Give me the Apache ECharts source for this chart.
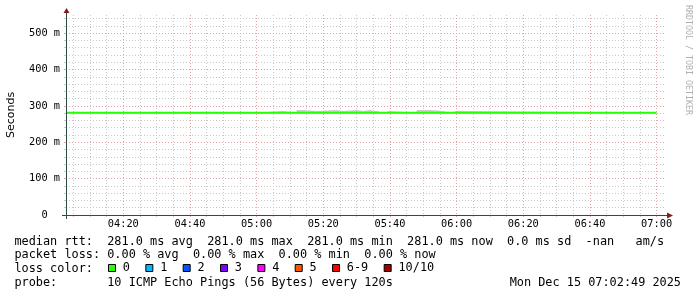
<!DOCTYPE html>
<html><head><meta charset="utf-8">
<script src="https://cdn.jsdelivr.net/npm/echarts@6/dist/echarts.min.js"></script>
<style>html,body{margin:0;padding:0;background:#fff}#c{width:697px;height:297px}</style>
</head><body><div id="c"></div>
<script>
// ---- data ----
const rangeStart = '04:02:49';
const rangeEnd = '07:02:49';
const timeTickLabels = ['04:20','04:40','05:00','05:20','05:40','06:00','06:20','06:40','07:00'];
const minorTimeTicks = ['04:05','04:10','04:15','04:25','04:30','04:35','04:45','04:50','04:55',
  '05:05','05:10','05:15','05:25','05:30','05:35','05:45','05:50','05:55',
  '06:05','06:10','06:15','06:25','06:30','06:35','06:45','06:50','06:55'];
const yTickValues = [0, 100, 200, 300, 400, 500];
const yMinorValues = [20,40,60,80,120,140,160,180,220,240,260,280,320,340,360,380,420,440,460,480,520,540];
const yMax = 550;

// median RTT (ms)
const medianTimes = ['04:02:49', '07:00'];
const medianMs = [281.0, 281.0];

// smoke: top of ping spread per step (ms), value holds from each time to the next
const smokeTimes = ['04:02:49','05:00','05:08','05:12','05:14','05:18','05:24','05:26','05:30','05:32',
  '05:34','05:36','05:38','05:40','05:48','05:52','05:56','05:58','06:00','07:00'];
const smokeMaxMs = [281.5,286,281.5,288.75,286,288.75,286,288.75,286,288.75,
  286,281.5,286,281.5,288.75,286,281.5,286,281.5,281.5];
const smokeFloorMs = 280;

// legend / stats
const lossNames = ['0','1','2','3','4','5','6-9','10/10'];
const lossColors = ['#26ff00','#00b8ff','#0059ff','#7e00ff','#ff00ff','#ff5500','#ff0000','#a10000'];
const rttKinds = ['avg','max','min','now'];
const rttValues = [281.0, 281.0, 281.0, 281.0];
const lossValues = [0.00, 0.00, 0.00, 0.00];
const probeText = '10 ICMP Echo Pings (56 Bytes) every 120s';
const stampText = 'Mon Dec 15 07:02:49 2025';

// ---- helpers ----
function toMin(s){ const p = s.split(':').map(Number); return p[0]*60 + p[1] + (p[2]||0)/60; }
function fmtTime(v){ const h = Math.floor(v/60), m = Math.round(v - h*60); return (h<10?'0':'')+h+':'+(m<10?'0':'')+m; }

const MONO = 'DejaVu Sans Mono';
const LFS = 11.86;
const GL = 66, GT = 15, GW = 600, GH = 200;
const axisColor = '#2c4d43', arrowColor = '#7f1f1f';
const minorColor = '#c8c8c8', majorColor = '#e0a4a4';

const line1 = 'median rtt:  ' + rttValues.map((v,i)=> v.toFixed(1)+' ms '+rttKinds[i]).join('  ') + '  0.0 ms sd  -nan   am/s';
const line2 = 'packet loss: ' + lossValues.map((v,i)=> v.toFixed(2)+' % '+rttKinds[i]).join('  ');

const chart = echarts.init(document.getElementById('c'), null, {renderer:'canvas'});
const xMin = toMin(rangeStart), xMax = toMin(rangeEnd);

const option = {
  animation: false,
  backgroundColor: '#ffffff',
  grid: { left: GL, top: GT, width: GW, height: GH, containLabel: false, outerBoundsMode: 'none' },
  xAxis: [
    { type: 'value', min: xMin, max: xMax, position: 'bottom', z: 3,
      axisLine: { show: true, onZero: false, lineStyle: { color: axisColor, width: 1 } },
      axisTick: { show: true, length: 2, customValues: timeTickLabels.map(toMin), lineStyle: { color: majorColor } },
      axisLabel: { show: true, customValues: timeTickLabels.map(toMin), formatter: v => fmtTime(v), margin: 4,
        fontFamily: MONO, fontSize: 10.3, color: '#000' },
      splitLine: { show: true, lineStyle: { color: majorColor, width: 1, type: [1,2] } } },
    { type: 'value', min: xMin, max: xMax, position: 'bottom', z: 1,
      axisLine: { show: false },
      axisTick: { show: true, length: 2, customValues: minorTimeTicks.map(toMin), lineStyle: { color: minorColor } },
      axisLabel: { show: false },
      splitLine: { show: true, lineStyle: { color: minorColor, width: 1, type: [1,2] } } }
  ],
  yAxis: [
    { type: 'value', min: 0, max: yMax, position: 'left', z: 2,
      name: 'Seconds', nameLocation: 'middle', nameRotate: 90, nameGap: 49,
      nameTextStyle: { fontFamily: 'DejaVu Sans', fontSize: 11, color: '#000' },
      axisLine: { show: true, onZero: false, lineStyle: { color: axisColor, width: 1 } },
      axisTick: { show: true, length: 2, customValues: yTickValues, lineStyle: { color: majorColor } },
      axisLabel: { show: true, customValues: yTickValues, margin: 6,
        formatter: v => v === 0 ? '0  ' : v + ' m', fontFamily: MONO, fontSize: 10.3, color: '#000' },
      splitLine: { show: true, lineStyle: { color: majorColor, width: 1, type: [1,2] } } },
    { type: 'value', min: 0, max: yMax, position: 'left', z: 1,
      axisLine: { show: false },
      axisTick: { show: true, length: 2, customValues: yMinorValues, lineStyle: { color: minorColor } },
      axisLabel: { show: false },
      splitLine: { show: true, lineStyle: { color: minorColor, width: 1, type: [1,2] } } }
  ],
  legend: {
    data: lossNames, left: 108, top: 261, icon: 'rect', itemWidth: 7, itemHeight: 7, itemGap: 15.4,
    selectedMode: false, padding: 0,
    itemStyle: { borderColor: '#000', borderWidth: 1 },
    textStyle: { fontFamily: MONO, fontSize: LFS, color: '#000', lineHeight: 14, padding: [0,0,0,2.3] }
  },
  series: [
    { name: 'smoke', type: 'line', step: 'end', xAxisIndex: 0, yAxisIndex: 0, symbol: 'none', silent: true,
      data: smokeTimes.map((t,i)=>[toMin(t), smokeMaxMs[i]]),
      lineStyle: { width: 0, opacity: 0 },
      areaStyle: { color: '#cccccc', opacity: 1, origin: smokeFloorMs }, z: 2 },
    { name: 'median rtt', type: 'line', xAxisIndex: 0, yAxisIndex: 0, symbol: 'none', silent: true,
      data: medianTimes.map((t,i)=>[toMin(t), medianMs[i]]),
      lineStyle: { color: '#26ff00', width: 2 }, z: 3 }
  ].concat(lossNames.map((n,i)=>({ name: n, type: 'bar', data: [], xAxisIndex: 0, yAxisIndex: 0,
      itemStyle: { color: lossColors[i], borderColor: '#000', borderWidth: 1 } }))),
  graphic: [
    // axis extensions and arrows
    { type: 'line', shape: { x1: 62, y1: 215.5, x2: 668, y2: 215.5 }, style: { stroke: axisColor, lineWidth: 1 }, z: 10 },
    { type: 'line', shape: { x1: 66.5, y1: 219, x2: 66.5, y2: 12 }, style: { stroke: axisColor, lineWidth: 1 }, z: 10 },
    { type: 'polygon', shape: { points: [[667,212.5],[667,218.5],[673,215.5]] }, style: { fill: arrowColor }, z: 11 },
    { type: 'polygon', shape: { points: [[63.5,13],[69.5,13],[66.5,8]] }, style: { fill: arrowColor }, z: 11 },
    // legend text
    { type: 'text', x: 14.4, y: 241.5, style: { text: line1, font: LFS+'px "'+MONO+'"', fill: '#000', verticalAlign: 'middle' } },
    { type: 'text', x: 14.4, y: 255.2, style: { text: line2, font: LFS+'px "'+MONO+'"', fill: '#000', verticalAlign: 'middle' } },
    { type: 'text', x: 14.4, y: 269, style: { text: 'loss color:', font: LFS+'px "'+MONO+'"', fill: '#000', verticalAlign: 'middle' } },
    { type: 'text', x: 14.4, y: 282.7, style: { text: 'probe:       ' + probeText, font: LFS+'px "'+MONO+'"', fill: '#000', verticalAlign: 'middle' } },
    { type: 'text', x: 681, y: 282.7, style: { text: stampText, font: LFS+'px "'+MONO+'"', fill: '#000', align: 'right', verticalAlign: 'middle' } },
    // watermark
    { type: 'text', x: 688.5, y: 5, rotation: -Math.PI/2,
      style: { text: 'RRDTOOL / TOBI OETIKER', font: '8.3px "'+MONO+'"', fill: '#b0b0b0', align: 'left', verticalAlign: 'middle' } }
  ]
};
chart.setOption(option);
</script>
</body></html>
